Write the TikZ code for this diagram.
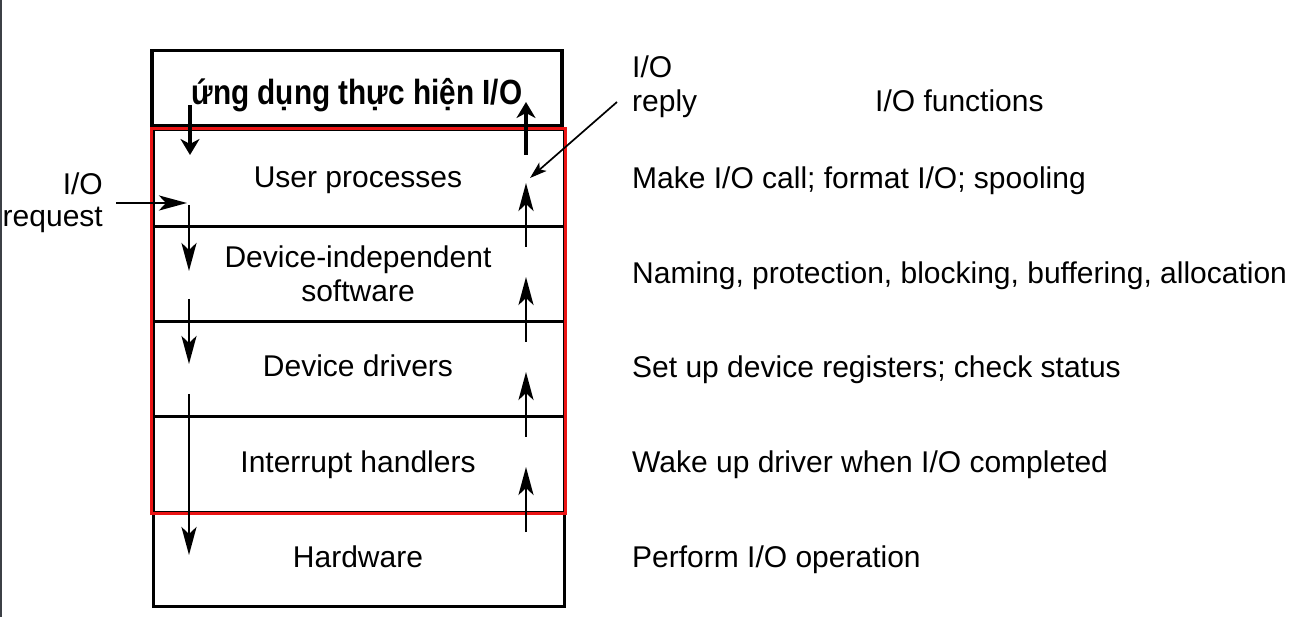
\documentclass[tikz,border=0pt]{standalone}
\usepackage{fontspec}
\setmainfont{Liberation Sans}
\usetikzlibrary{arrows.meta}
\definecolor{boxred}{RGB}{235,20,20}
\definecolor{edgegrey}{RGB}{60,64,70}
\begin{document}
\begin{tikzpicture}[x=1pt,y=-1pt,
  lbl/.style={font=\fontsize{30}{34}\selectfont, inner sep=0pt},
  layer/.style={draw=black, line width=3pt, minimum width=411pt, inner sep=0pt},
  flow/.style={line width=2.8pt, -{Stealth[length=28pt,width=15pt,inset=7pt]}},
  bigflow/.style={line width=4pt, -{Stealth[length=16pt,width=19pt,inset=5pt]}},
  replyflow/.style={line width=1.7pt, -{Stealth[length=17pt,width=11pt,inset=4pt]}}]
\useasboundingbox (0,0) rectangle (1291,617);
\fill[white] (0,0) rectangle (1291,617);
\draw[line width=2pt, edgegrey] (1,0) -- (1,617);

% layers
\node[layer, minimum height=97pt] (user) at (358.5,178.5) {};
\node[layer, minimum height=95pt] (indep) at (358.5,274.5) {};
\node[layer, minimum height=95pt] (drivers) at (358.5,369.5) {};
\node[layer, minimum height=95pt] (intr) at (358.5,464.5) {};
\node[layer, minimum height=94pt] (hw) at (358.5,559) {};
\draw[boxred, line width=3.8pt] (user.north west) rectangle (intr.south east);

% application box
\node[draw=black, line width=3.8pt, minimum width=410pt, minimum height=75pt] (app) at (357,88) {};
\node[anchor=base, inner sep=0pt] (title) at (357,105)
  {\scalebox{0.85}[1]{\bfseries\fontsize{35}{38}\selectfont ứng dụng thực hiện I/O}};

% layer labels
\node[lbl, anchor=base] (tuser) at (358,188) {User processes};
\node[lbl, anchor=base] (tindep1) at (358,268) {Device-independent};
\node[lbl, anchor=base] (tindep2) at (358,302) {software};
\node[lbl, anchor=base] (tdrv) at (358,377) {Device drivers};
\node[lbl, anchor=base] (tintr) at (358,472) {Interrupt handlers};
\node[lbl, anchor=base] (thw) at (358,567) {Hardware};

% function labels
\node[lbl, anchor=base west] (fhead) at (875,112) {I/O functions};
\node[lbl, anchor=base west] (f1) at (632,189) {Make I/O call; format I/O; spooling};
\node[lbl, anchor=base west] (f2) at (632,284) {Naming, protection, blocking, buffering, allocation};
\node[lbl, anchor=base west] (f3) at (632,378) {Set up device registers; check status};
\node[lbl, anchor=base west] (f4) at (632,473) {Wake up driver when I/O completed};
\node[lbl, anchor=base west] (f5) at (632,567) {Perform I/O operation};

% request / reply labels
\node[lbl, anchor=base east] (req1) at (103,195) {I/O};
\node[lbl, anchor=base east] (req2) at (103,227) {request};
\node[lbl, anchor=base west] (rep1) at (632,78) {I/O};
\node[lbl, anchor=base west] (rep2) at (632,112) {reply};

% coordinates for flow arrows
\coordinate (a0s) at (190,105); \coordinate (a0e) at (190,155);
\coordinate (b0s) at (526,155); \coordinate (b0e) at (526,102);
\coordinate (rqs) at (116,203); \coordinate (rqe) at (187,203);
\coordinate (rps) at (617,102); \coordinate (rpe) at (530,178);
\coordinate (d1s) at (189,205); \coordinate (d1e) at (189,271);
\coordinate (d2s) at (189,299); \coordinate (d2e) at (189,364);
\coordinate (d3s) at (189,394); \coordinate (d3e) at (189,555);
\coordinate (u1s) at (526,247); \coordinate (u1e) at (526,183);
\coordinate (u2s) at (526,342); \coordinate (u2e) at (526,277);
\coordinate (u3s) at (526,437); \coordinate (u3e) at (526,372);
\coordinate (u4s) at (526,532); \coordinate (u4e) at (526,467);

\draw[bigflow] (a0s) -- (a0e);
\draw[bigflow] (b0s) -- (b0e);
\draw[flow] (rqs) -- (rqe);
\draw[replyflow] (rps) -- (rpe);
\draw[flow] (d1s) -- (d1e);
\draw[flow] (d2s) -- (d2e);
\draw[flow] (d3s) -- (d3e);
\draw[flow] (u1s) -- (u1e);
\draw[flow] (u2s) -- (u2e);
\draw[flow] (u3s) -- (u3e);
\draw[flow] (u4s) -- (u4e);
\end{tikzpicture}
\end{document}
